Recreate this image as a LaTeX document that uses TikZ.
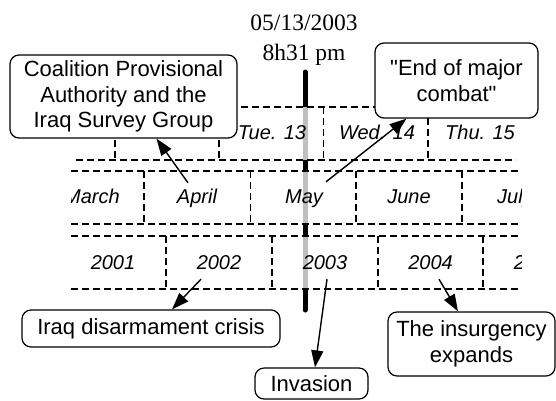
\documentclass[tikz,border=0pt]{standalone}
\usepackage{fontspec}
\setmainfont{Liberation Serif}
\setsansfont{Liberation Sans}
\usetikzlibrary{arrows.meta}
\tikzset{
  event/.style={draw, line width=1.2pt, rounded corners=9pt, fill=white,
    align=center, inner sep=0pt, font=\sffamily\fontsize{22}{25.5}\selectfont},
  period/.style={font=\sffamily\itshape\fontsize{20}{24}\selectfont,
    text height=14pt, text depth=0pt, inner sep=0pt},
  grid/.style={dash pattern=on 7pt off 4pt, line width=1.4pt},
  stamp/.style={font=\fontsize{23.5}{30}\selectfont, anchor=base, inner sep=0pt},
  arr/.style={-{Triangle[length=17pt,width=12pt]}, line width=1.4pt},
}

\begin{document}
\begin{tikzpicture}[x=1pt, y=-1pt]
  \useasboundingbox (0,0) rectangle (556,400);

  % current time
  \coordinate (bartop) at (305,72);
  \coordinate (barbot) at (305,310);
  \draw [line width=5pt, line cap=round] (bartop) -- (barbot);
  \node [stamp] (date) at (304,30) {05/13/2003};
  \node [stamp] (clock) at (304,60) {8h31 pm};

  % days
  \begin{scope}
    \clip (75,95) rectangle (516,165);
    \fill [white, fill opacity=.75] (10,107) rectangle (533,160);
    \draw [grid] (10,107) -- (533,107);
    \draw [grid] (10,160) -- (533,160);
    \foreach \x in {115,219,323.5,428}
      \draw [grid] (\x,107) -- (\x,160);
    \node [period] (tue) at (272,132) {Tue. 13};
    \node [period] (wed) at (377,132) {Wed. 14};
    \node [period] (thu) at (480,132) {Thu. 15};
  \end{scope}

  % months
  \begin{scope}
    \clip (71,165) rectangle (521,230);
    \fill [white, fill opacity=.75] (38,171) rectangle (568,224);
    \draw [grid] (38,171) -- (568,171);
    \draw [grid] (38,224) -- (568,224);
    \foreach \x in {144,250.5,356,462}
      \draw [grid] (\x,171) -- (\x,224);
    \node [period] (mar) at (92,196) {March};
    \node [period] (apr) at (197,196) {April};
    \node [period] (may) at (304,196) {May};
    \node [period] (jun) at (409,196) {June};
    \node [period] (jul) at (515,196) {July};
  \end{scope}

  % years
  \begin{scope}
    \clip (71,230) rectangle (521,295);
    \fill [white, fill opacity=.75] (60,236) rectangle (589,289);
    \draw [grid] (60,236) -- (589,236);
    \draw [grid] (60,289) -- (589,289);
    \foreach \x in {166,272,378,483}
      \draw [grid] (\x,236) -- (\x,289);
    \node [period] (y01) at (113,262) {2001};
    \node [period] (y02) at (219,262) {2002};
    \node [period] (y03) at (325,262) {2003};
    \node [period] (y04) at (430.5,262) {2004};
    \node [period] (y05) at (536,262) {2005};
  \end{scope}

  % events
  \node [event, minimum width=227pt, minimum height=83pt] (cpa) at (123.5,96.5)
    {Coalition Provisional\\Authority and the\\Iraq Survey Group};
  \node [event, minimum width=163pt, minimum height=75pt] (endcombat) at (456.5,80.5)
    {\textquotedbl End of major\\combat\textquotedbl};
  \node [event, minimum width=258pt, minimum height=37pt] (crisis) at (151,328.5)
    {Iraq disarmament crisis};
  \node [event, minimum width=113pt, minimum height=31pt] (invasion) at (311.5,383.5)
    {Invasion};
  \node [event, minimum width=167pt, minimum height=64pt] (insurgency) at (471.5,344)
    {The insurgency\\expands};

  \draw [arr] ([xshift=-9pt,yshift=6pt]apr.north) -- ([xshift=33pt]cpa.south);
  \draw [arr] ([xshift=22pt,yshift=7pt]may.north) -- ([xshift=-50pt]endcombat.south);
  \draw [arr] ([xshift=-18pt,yshift=-10pt]y02.south) -- ([xshift=21pt]crisis.north);
  \draw [arr] ([xshift=2pt,yshift=-10pt]y03.south) -- ([xshift=3.5pt]invasion.north);
  \draw [arr] ([xshift=8.5pt,yshift=-10pt]y04.south) -- ([xshift=-13.5pt]insurgency.north);
\end{tikzpicture}
\end{document}
